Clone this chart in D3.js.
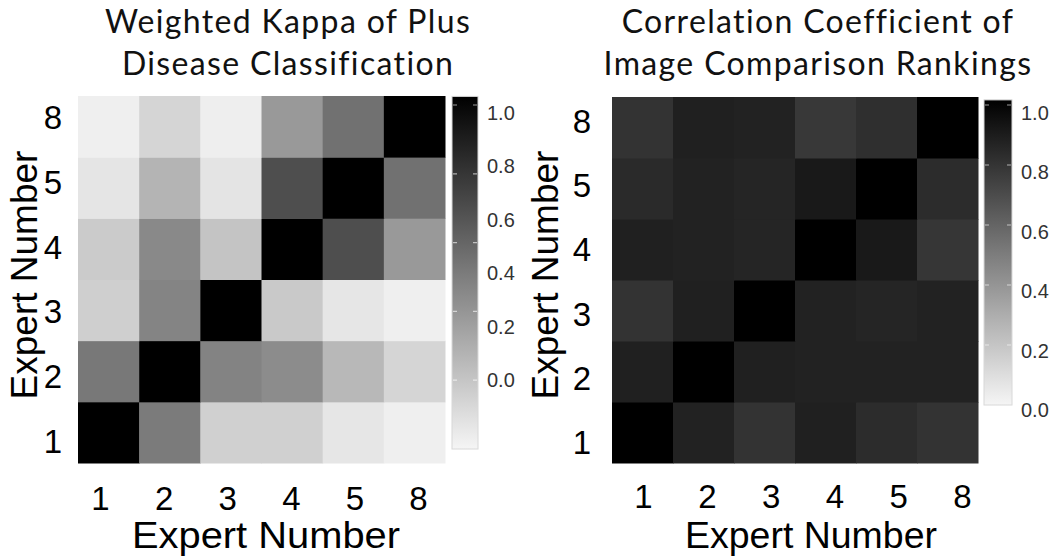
<!DOCTYPE html>
<html>
<head>
<meta charset="utf-8">
<script src="https://d3js.org/d3.v7.min.js"></script>
<style>
  body { margin: 0; background: #fff; }
  svg { display: block; }
</style>
</head>
<body>
<svg></svg>
<script>
var experts = ['1', '2', '3', '4', '5', '8'];

// rows go expert 1 -> 8 (bottom to top), columns in the same order
var kappa = [
  [1.00, 0.50, 0.15, 0.15, 0.06, 0.025],
  [0.51, 1.00, 0.465, 0.43, 0.25, 0.13],
  [0.155, 0.46, 1.00, 0.18, 0.06, 0.025],
  [0.17, 0.44, 0.20, 1.00, 0.68, 0.375],
  [0.065, 0.265, 0.07, 0.68, 1.00, 0.54],
  [0.025, 0.13, 0.03, 0.375, 0.54, 1.00]
];

var correlation = [
  [1.00, 0.86, 0.79, 0.87, 0.82, 0.79],
  [0.87, 1.00, 0.87, 0.86, 0.86, 0.86],
  [0.79, 0.87, 1.00, 0.86, 0.85, 0.86],
  [0.87, 0.86, 0.85, 1.00, 0.90, 0.78],
  [0.83, 0.86, 0.85, 0.90, 1.00, 0.82],
  [0.79, 0.87, 0.86, 0.77, 0.81, 1.00]
];

var legendTicks = [0, 0.2, 0.4, 0.6, 0.8, 1.0];

var titles = [
  ['Weighted Kappa of Plus', 'Disease Classification'],
  ['Correlation Coefficient of', 'Image Comparison Rankings']
];

var color = d3.scaleLinear().domain([0, 1]).range(['#f5f5f5', '#000000']);

var svg = d3.select('svg').attr('width', 1050).attr('height', 559);

// white -> black gradient used by both colour bars
var grad = svg.append('defs').append('linearGradient')
  .attr('id', 'bar').attr('x1', 0).attr('y1', 1).attr('x2', 0).attr('y2', 0);
d3.range(0, 1.01, 0.1).forEach(t => {
  grad.append('stop').attr('offset', t).attr('stop-color', color(t));
});

var panels = [
  { data: kappa, title: titles[0], titleX: 288,
    left: 78, top: 96, size: 367,
    xLabels: [100, 418], yLabels: [442, 118], yPad: 16, xPad: 24,
    yTitleX: 37, xTitleX: 266, xTitleLen: 268,
    barX: 452, barW: 26, barRange: [449, 105], barTop: 1.025,
    labelRange: [380, 113] },
  { data: correlation, title: titles[1], titleX: 818,
    left: 612, top: 97, size: 366,
    xLabels: [643, 962], yLabels: [443, 122], yPad: 21, xPad: 22,
    yTitleX: 558, xTitleX: 811, xTitleLen: 252,
    barX: 984, barW: 28, barRange: [405, 105], barTop: 1.017,
    labelRange: [410, 113] }
];

var sans = '"Liberation Sans", Arial, sans-serif';

panels.forEach(p => {
  var g = svg.append('g');

  var x = d3.scaleBand().domain(experts).range([p.left, p.left + p.size]);
  var y = d3.scaleBand().domain(experts).range([p.top + p.size, p.top]);

  var cells = [];
  p.data.forEach((row, i) => row.forEach((v, j) => {
    cells.push({ row: experts[i], col: experts[j], value: v });
  }));

  g.selectAll('rect.cell')
    .data(cells)
    .enter()
    .append('rect')
      .attr('class', 'cell')
      .attr('x', d => x(d.col))
      .attr('y', d => y(d.row))
      .attr('width', x.bandwidth() + 0.5)
      .attr('height', y.bandwidth() + 0.5)
      .style('fill', d => color(d.value));

  // tick labels sit a little wider apart than the cells in the original
  var xl = d3.scalePoint().domain(experts).range(p.xLabels);
  var yl = d3.scalePoint().domain(experts).range(p.yLabels);

  var yAxis = g.append('g')
    .attr('transform', 'translate(' + p.left + ',0)')
    .call(d3.axisLeft(yl).tickSize(0).tickPadding(p.yPad));
  var xAxis = g.append('g')
    .attr('transform', 'translate(0,' + (p.top + p.size) + ')')
    .call(d3.axisBottom(xl).tickSize(0).tickPadding(p.xPad));
  [yAxis, xAxis].forEach(a => {
    a.select('.domain').remove();
    a.selectAll('text')
      .style('font-family', sans)
      .style('font-size', '33px')
      .style('fill', '#000');
  });

  g.append('text')
    .attr('x', p.xTitleX).attr('y', 548)
    .attr('text-anchor', 'middle')
    .attr('textLength', p.xTitleLen)
    .attr('lengthAdjust', 'spacingAndGlyphs')
    .style('font-family', sans)
    .style('font-size', '37px')
    .text('Expert Number');

  g.append('text')
    .attr('transform', 'translate(' + p.yTitleX + ',275) rotate(-90)')
    .attr('text-anchor', 'middle')
    .style('font-family', sans)
    .style('font-size', '37px')
    .text('Expert Number');

  g.selectAll('text.title')
    .data(p.title)
    .enter()
    .append('text')
      .attr('class', 'title')
      .attr('x', p.titleX)
      .attr('y', (d, i) => 33 + i * 42)
      .attr('text-anchor', 'middle')
      .style('font-family', 'Lato, "Open Sans", sans-serif')
      .style('font-size', '32px')
      .style('letter-spacing', '1.35px')
      .style('fill', '#111')
      .text(d => d);

  // colour bar
  var barY = d3.scaleLinear().domain([0, 1]).range(p.barRange);
  g.append('rect')
    .attr('x', p.barX).attr('y', barY(p.barTop))
    .attr('width', p.barW).attr('height', barY(0) - barY(p.barTop))
    .style('fill', 'url(#bar)')
    .style('stroke', '#d8d8d8')
    .style('stroke-width', 1);

  g.selectAll('path.dash')
    .data(legendTicks.filter(t => t > 0))
    .enter()
    .append('path')
      .attr('class', 'dash')
      .attr('d', d => 'M' + (p.barX + 1) + ',' + barY(d) + 'h4M' + (p.barX + p.barW - 5) + ',' + barY(d) + 'h4')
      .style('stroke', '#fff')
      .style('stroke-opacity', 0.6)
      .style('stroke-width', 1.2);

  var labelY = d3.scaleLinear().domain([0, 1]).range(p.labelRange);
  g.selectAll('text.leg')
    .data(legendTicks)
    .enter()
    .append('text')
      .attr('class', 'leg')
      .attr('x', p.barX + p.barW + 9)
      .attr('y', d => labelY(d))
      .attr('dy', '0.35em')
      .style('font-family', sans)
      .style('font-size', '20px')
      .style('fill', '#333')
      .text(d => d.toFixed(1));
});
</script>
</body>
</html>
